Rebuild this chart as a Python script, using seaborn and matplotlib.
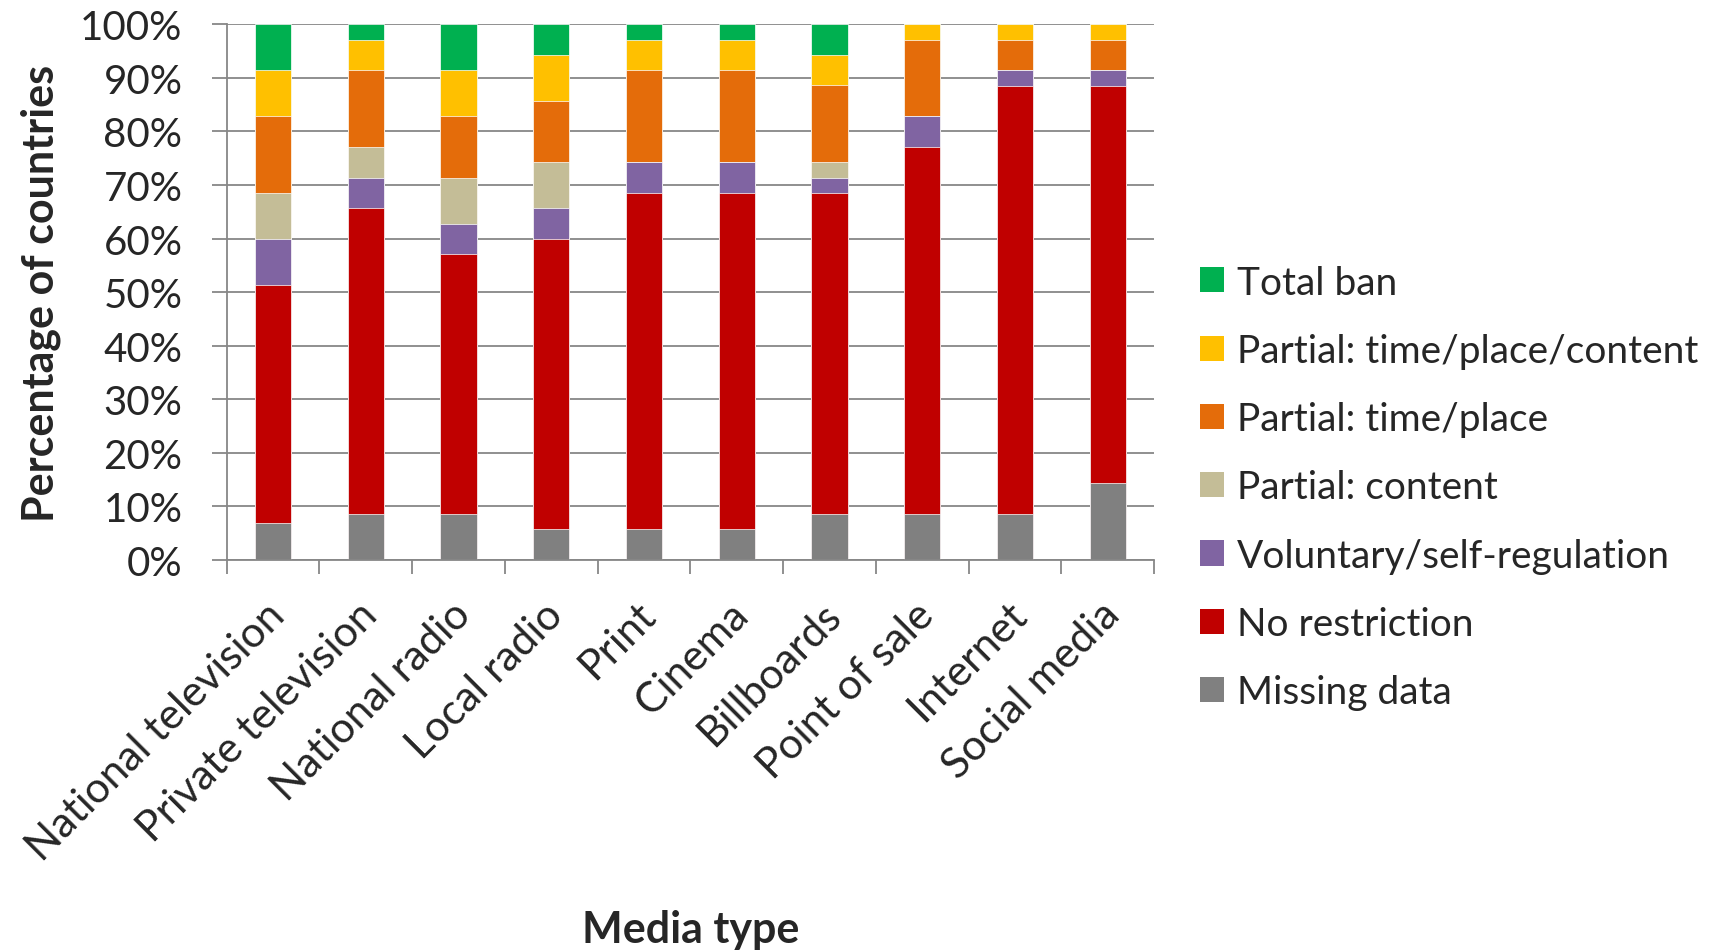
import numpy as np
import pandas as pd
import matplotlib
matplotlib.use('Agg')
import matplotlib.pyplot as plt
import matplotlib.transforms as mtransforms
from matplotlib.patches import Patch
from matplotlib.ticker import FuncFormatter, MultipleLocator, FixedLocator
import seaborn as sns

# Datos (porcentaje de países por tipo de medio)
media = ['National television', 'Private television', 'National radio', 'Local radio',
         'Print', 'Cinema', 'Billboards', 'Point of sale', 'Internet', 'Social media']

missing_data       = [6.9, 8.6, 8.6, 5.7, 5.7, 5.7, 8.6, 8.6, 8.6, 14.3]
no_restriction     = [44.4, 57.1, 48.5, 54.3, 62.9, 62.9, 59.9, 68.5, 79.9, 74.2]
voluntary          = [8.6, 5.7, 5.7, 5.7, 5.7, 5.7, 2.9, 5.7, 2.9, 2.9]
partial_content    = [8.6, 5.7, 8.6, 8.6, 0.0, 0.0, 2.9, 0.0, 0.0, 0.0]
partial_time_place = [14.3, 14.3, 11.4, 11.4, 17.1, 17.1, 14.3, 14.3, 5.7, 5.7]
partial_all        = [8.6, 5.7, 8.6, 8.6, 5.7, 5.7, 5.7, 2.9, 2.9, 2.9]
total_ban          = [8.6, 2.9, 8.6, 5.7, 2.9, 2.9, 5.7, 0.0, 0.0, 0.0]

layer_names = ['Missing data', 'No restriction', 'Voluntary/self-regulation',
               'Partial: content', 'Partial: time/place', 'Partial: time/place/content',
               'Total ban']
layer_colors = ['#808080', '#C00000', '#8064A2', '#C4BD97', '#E46C0A', '#FFC000', '#00B050']

# Tabla larga con los valores acumulados
layers = [missing_data, no_restriction, voluntary, partial_content,
          partial_time_place, partial_all, total_ban]
cum = np.cumsum(np.array(layers), axis=0)
rows = []
for i, name in enumerate(layer_names):
    for j, m in enumerate(media):
        rows.append({'media': m, 'layer': name, 'top': cum[i, j]})
df = pd.DataFrame(rows)

sns.set_theme(style='white')
plt.rcParams['font.family'] = ['Lato', 'DejaVu Sans']
grid_color = '#878787'

fig = plt.figure(figsize=(17.25, 9.53), dpi=100)
ax = fig.add_axes([0.1314, 0.4113, 0.5376, 0.5621])

# Barras apiladas: se dibuja del total acumulado hacia abajo
for i in reversed(range(len(layer_names))):
    sub = df[df['layer'] == layer_names[i]]
    sns.barplot(data=sub, x='media', y='top', order=media, color=layer_colors[i],
                saturation=1, width=0.39, edgecolor='white', linewidth=0.5,
                errorbar=None, ax=ax)

ax.set_xlim(-0.5, 9.5)
ax.set_ylim(0, 100)
ax.yaxis.set_major_locator(MultipleLocator(10))
ax.yaxis.set_major_formatter(FuncFormatter(lambda v, p: f'{v:.0f}%'))
ax.yaxis.grid(True, color=grid_color, linewidth=1.3)
ax.set_axisbelow(True)

for side in ['top', 'right']:
    ax.spines[side].set_visible(False)
for side in ['left', 'bottom']:
    ax.spines[side].set_color(grid_color)
    ax.spines[side].set_linewidth(1.3)

ax.tick_params(axis='y', direction='out', length=10.8, width=1.3, color=grid_color,
               labelsize=29, pad=21, left=True)
ax.set_xticks(range(len(media)))
ax.set_xticklabels(media, rotation=45, ha='right', va='top', rotation_mode='anchor')
ax.xaxis.set_minor_locator(FixedLocator(np.arange(-0.5, len(media), 1)))
ax.tick_params(axis='x', which='major', length=0, labelsize=30.5, pad=25, bottom=True)
ax.tick_params(axis='x', which='minor', direction='out', length=10, width=1.3,
               color=grid_color, bottom=True)
offset = mtransforms.ScaledTranslation(-0.08, 0, fig.dpi_scale_trans)
for label in ax.get_xticklabels():
    label.set_transform(label.get_transform() + offset)

ax.set_xlabel('Media type', fontsize=31, fontweight='bold')
ax.xaxis.set_label_coords(0.5, -0.689)
ax.xaxis.label.set_va('center')
ax.set_ylabel('Percentage of countries', fontsize=31, fontweight='bold')
ax.yaxis.set_label_coords(-0.2005, 0.5)
ax.yaxis.label.set_va('center')

handles = [Patch(facecolor=c, edgecolor='none', label=n)
           for n, c in zip(layer_names[::-1], layer_colors[::-1])]
fig.legend(handles=handles, loc='center left', bbox_to_anchor=(0.6957, 0.4875),
           frameon=False, fontsize=28, borderpad=0, borderaxespad=0,
           handlelength=0.62, handleheight=0.62, handletextpad=0.33, labelspacing=0.83)

fig.savefig('out.png', dpi=100)
